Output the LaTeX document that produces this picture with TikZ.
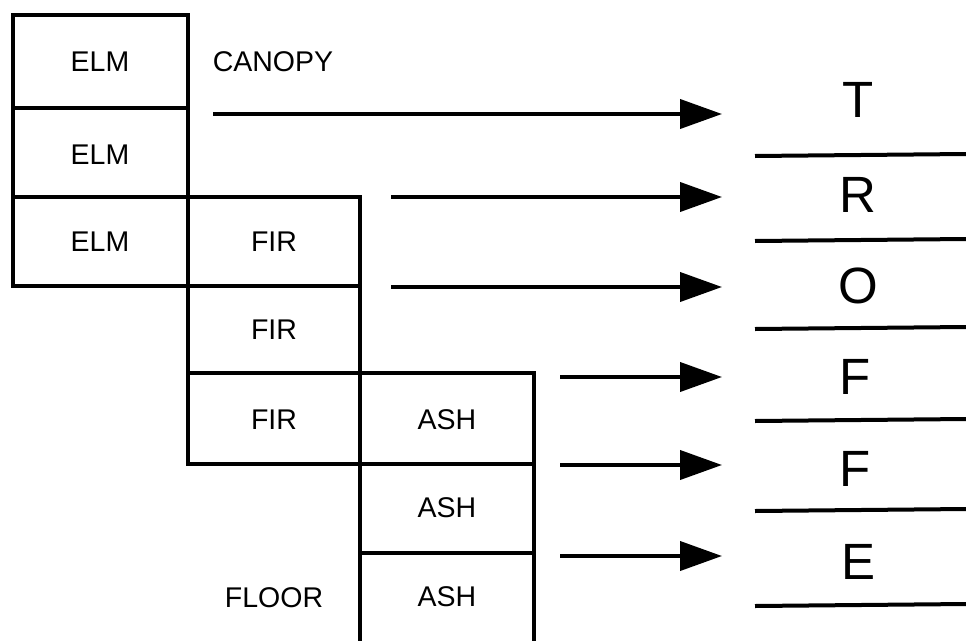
\documentclass[tikz,border=0pt]{standalone}
\usepackage{fontspec}
\setmainfont{Liberation Sans}
\usetikzlibrary{arrows.meta}
\begin{document}
\begin{tikzpicture}[x=1pt,y=-1pt,
  grid/.style={line width=4pt,line cap=rect,line join=miter},
  lbl/.style={inner sep=0pt,font=\fontsize{28.5}{32}\selectfont},
  big/.style={inner sep=0pt,font=\fontsize{51}{56}\selectfont},
  arr/.style={line width=4pt,-{Triangle[length=42pt,width=29pt]}},
  rule/.style={line width=4pt}]
\useasboundingbox (0,0) rectangle (966,640);
% ELM column
\draw[grid] (13,286) -- (13,15) -- (188,15);
\draw[grid] (188,15) -- (188,464);
\draw[grid] (13,108) -- (188,108);
\draw[grid] (13,197) -- (360,197);
\draw[grid] (13,286) -- (360,286);
% FIR column
\draw[grid] (360,197) -- (360,642);
\draw[grid] (188,373) -- (534,373);
\draw[grid] (188,464) -- (534,464);
% ASH column
\draw[grid] (534,373) -- (534,642);
\draw[grid] (360,553) -- (534,553);
% labels
\node[lbl] (e1) at (100,62) {ELM};
\node[lbl] (e2) at (100,155) {ELM};
\node[lbl] (e3) at (100,242) {ELM};
\node[lbl] (f1) at (274,242) {FIR};
\node[lbl] (f2) at (274,330) {FIR};
\node[lbl] (f3) at (274,420) {FIR};
\node[lbl] (a1) at (447,420) {ASH};
\node[lbl] (a2) at (447,508) {ASH};
\node[lbl] (a3) at (447,597) {ASH};
\node[lbl] (canopy) at (273,62) {CANOPY};
\node[lbl] (floor) at (274,598) {FLOOR};
% right letters
\node[big] (T) at (858,100) {T};
\node[big] (R) at (858,195) {R};
\node[big] (O) at (858,286) {O};
\node[big] (F1) at (855,377) {F};
\node[big] (F2) at (855,469) {F};
\node[big] (E) at (858,562) {E};
% rules
\foreach \y [count=\i] in {155,240,328,420,510,605}{
  \coordinate (rl\i) at (755,\y+1);
  \coordinate (rr\i) at (966,\y-1);
  \draw[rule] (rl\i) -- (rr\i);
}
% arrows
\coordinate (s1) at (213,114); \coordinate (t1) at (722,114);
\coordinate (s2) at (391,197); \coordinate (t2) at (722,197);
\coordinate (s3) at (391,287); \coordinate (t3) at (722,287);
\coordinate (s4) at (560,377); \coordinate (t4) at (722,377);
\coordinate (s5) at (560,465); \coordinate (t5) at (722,465);
\coordinate (s6) at (560,556); \coordinate (t6) at (722,556);
\foreach \i in {1,...,6}{\draw[arr] (s\i) -- (t\i);}
\end{tikzpicture}
\end{document}
